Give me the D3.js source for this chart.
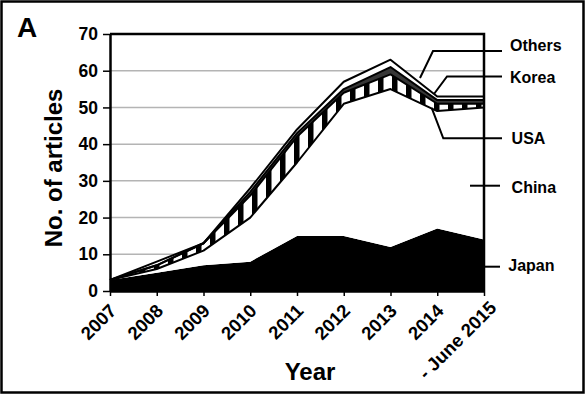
<!DOCTYPE html>
<html>
<head>
<meta charset="utf-8">
<script src="https://cdn.jsdelivr.net/npm/d3@7"></script>
<style>
body { margin: 0; background: #fff; }
text { font-family: "Liberation Sans", Arial, sans-serif; font-weight: bold; fill: #000; }
.grid line { stroke: #b4b4b4; stroke-width: 1.5; }
.axis path, .axis line { stroke: #000; }
</style>
</head>
<body>
<svg id="chart" width="586" height="395"></svg>
<script>
// articles per year, by country (stacked bottom -> top)
var yearLabels = ["2007", "2008", "2009", "2010", "2011", "2012", "2013", "2014", "- June 2015"];
var japan  = [3, 5, 7, 8, 15, 15, 12, 17, 14];
var china  = [0, 1, 4, 12, 20, 36, 43, 32, 36];
var usa    = [0, 1, 2, 6, 7, 3, 4, 2, 1];
var korea  = [0, 0, 0, 1, 1, 1, 2, 1, 1];
var others = [0, 1, 0, 1, 1, 2, 2, 1, 1];
var countries = ["Japan", "China", "USA", "Korea", "Others"];
var yTicks = [0, 10, 20, 30, 40, 50, 60, 70];

// callout leaders, in data units (x = year index, y = articles)
var callouts = [
    {name: "Others", text: [8.556, 65.5], pts: [[8.385, 65.37], [6.909, 65.37], [6.631, 58.0]]},
    {name: "Korea",  text: [8.556, 56.65], pts: [[8.385, 58.43], [7.209, 58.43], [6.930, 53.66]]},
    {name: "USA",    text: [8.59, 40.04], pts: [[8.385, 41.6], [7.129, 41.6], [6.881, 49.85]]},
    {name: "China",  text: [8.59, 26.69], pts: [[7.70, 28.68], [8.342, 28.68]]},
    {name: "Japan",  text: [8.52, 5.45], pts: [[8.0, 6.62], [8.342, 6.62]]}
];

var rows = yearLabels.map(function(y, i) {
    return {i: i, Japan: japan[i], China: china[i], USA: usa[i], Korea: korea[i], Others: others[i]};
});

var fills = {Japan: "#000", China: "#fff", USA: "url(#stripes)", Korea: "#363636", Others: "#fff"};

var svg = d3.select("#chart");

// outer panel border
svg.append("rect")
    .attr("x", 1.5).attr("y", 1.5)
    .attr("width", 582).attr("height", 391)
    .attr("fill", "none").attr("stroke", "#000").attr("stroke-width", 2.5);

var defs = svg.append("defs");
var pat = defs.append("pattern")
    .attr("id", "stripes")
    .attr("patternUnits", "userSpaceOnUse")
    .attr("width", 14).attr("height", 10);
pat.append("rect").attr("width", 14).attr("height", 10).attr("fill", "#fff");
pat.append("rect").attr("width", 5.5).attr("height", 10).attr("fill", "#000");

var x = d3.scaleLinear().domain([0, 8]).range([110, 484]);
var y = d3.scaleLinear().domain([0, 70]).range([291, 34]);

// gridlines
svg.append("g").attr("class", "grid")
    .selectAll("line")
    .data(yTicks.filter(function(t) { return t > 0 && t < 70; }))
    .enter().append("line")
    .attr("x1", x(0)).attr("x2", x(8))
    .attr("y1", function(d) { return y(d); })
    .attr("y2", function(d) { return y(d); });

var series = d3.stack().keys(countries)(rows);

var area = d3.area()
    .x(function(d) { return x(d.data.i); })
    .y0(function(d) { return y(d[0]); })
    .y1(function(d) { return y(d[1]); });

svg.append("g").selectAll("path")
    .data(series)
    .enter().append("path")
    .attr("d", area)
    .attr("fill", function(s) { return fills[s.key]; });

var topLine = d3.line()
    .x(function(d) { return x(d.data.i); })
    .y(function(d) { return y(d[1]); });

svg.append("g").selectAll("path")
    .data(series.slice(1))
    .enter().append("path")
    .attr("d", topLine)
    .attr("fill", "none")
    .attr("stroke", "#000")
    .attr("stroke-width", 2)
    .attr("stroke-linejoin", "round");

// frame top and right
svg.append("path")
    .attr("d", "M" + x(0) + "," + y(70) + "H" + x(8) + "V" + y(0))
    .attr("fill", "none").attr("stroke", "#000").attr("stroke-width", 2.5);

// axes
var yAxis = svg.append("g").attr("class", "axis")
    .attr("transform", "translate(" + x(0) + ",0)")
    .call(d3.axisLeft(y).tickValues(yTicks).tickSize(7).tickSizeOuter(0).tickPadding(5));
yAxis.select(".domain").attr("stroke-width", 2.5);
yAxis.selectAll(".tick line").attr("stroke-width", 1.5);
yAxis.selectAll("text").style("font-size", "17.5px");

var xAxis = svg.append("g").attr("class", "axis")
    .attr("transform", "translate(0," + y(0) + ")")
    .call(d3.axisBottom(x).tickValues(d3.range(9)).tickSize(5).tickSizeOuter(0)
        .tickFormat(function(i) { return yearLabels[i]; }));
xAxis.select(".domain").attr("stroke-width", 2.5);
xAxis.selectAll(".tick line").attr("stroke-width", 1.5);
xAxis.selectAll("text")
    .style("font-size", "18.5px")
    .attr("x", 0).attr("y", 0).attr("dy", 0)
    .attr("text-anchor", "end")
    .attr("transform", function(i) {
        return i === 8 ? "translate(13,18) rotate(-45)" : "translate(7,21) rotate(-45)";
    });

// axis titles
svg.append("text")
    .attr("transform", "translate(62,168) rotate(-90)")
    .attr("text-anchor", "middle")
    .style("font-size", "24px")
    .text("No. of articles");

svg.append("text")
    .attr("x", 310).attr("y", 380)
    .attr("text-anchor", "middle")
    .style("font-size", "24px")
    .text("Year");

svg.append("text")
    .attr("x", 17).attr("y", 37)
    .style("font-size", "28px")
    .text("A");

// callouts
var leader = d3.line()
    .x(function(d) { return x(d[0]); })
    .y(function(d) { return y(d[1]); });

svg.append("g").selectAll("path")
    .data(callouts)
    .enter().append("path")
    .attr("d", function(c) { return leader(c.pts); })
    .attr("fill", "none")
    .attr("stroke", "#000")
    .attr("stroke-width", 2);

svg.append("g").selectAll("text")
    .data(callouts)
    .enter().append("text")
    .attr("x", function(c) { return x(c.text[0]); })
    .attr("y", function(c) { return y(c.text[1]); })
    .style("font-size", "16px")
    .text(function(c) { return c.name; });
</script>
</body>
</html>
